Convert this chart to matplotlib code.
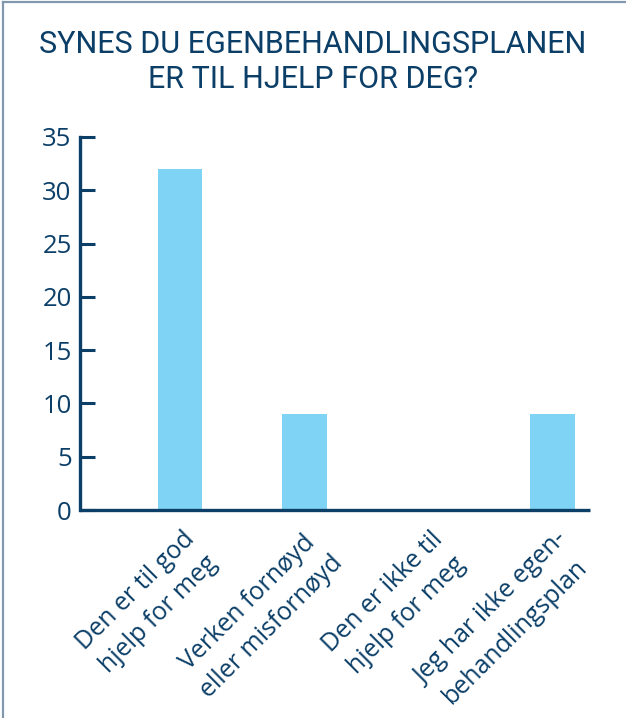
import matplotlib
matplotlib.use("Agg")
import matplotlib.pyplot as plt
import matplotlib.transforms as mtransforms
from matplotlib.lines import Line2D

# Svarfordeling
kategorier = [
    "Den er til god\nhjelp for meg",
    "Verken fornøyd\neller misfornøyd",
    "Den er ikke til\nhjelp for meg",
    "Jeg har ikke egen-\nbehandlingsplan",
]
antall = [32, 9, 0, 9]
y_ticks = [0, 5, 10, 15, 20, 25, 30, 35]

tittel = "SYNES DU EGENBEHANDLINGSPLANEN\nER TIL HJELP FOR DEG?"

navy = "#0c3f68"
bar_color = "#7fd3f5"
frame_color = "#8298ae"

plt.rcParams["font.family"] = ["Open Sans", "DejaVu Sans"]

fig = plt.figure(figsize=(6.26, 7.18), dpi=100)
ax = fig.add_axes([80 / 626, 1 - 510 / 718, 510 / 626, (510 - 137) / 718])

x = list(range(len(kategorier)))
ax.bar(x, antall, width=0.36, color=bar_color, zorder=1)

ax.set_ylim(0, 35)
ax.set_xlim(-0.806, 3.30)
ax.set_yticks(y_ticks)
ax.set_xticks(x)
ax.set_xticklabels(kategorier, rotation=45, ha="right", va="top",
                   rotation_mode="anchor", multialignment="center",
                   linespacing=1.45)

for side in ["top", "right"]:
    ax.spines[side].set_visible(False)
for side in ["left", "bottom"]:
    ax.spines[side].set_color(navy)
    ax.spines[side].set_linewidth(2.4)
    ax.spines[side].set_zorder(3)
ax.spines["bottom"].set_capstyle("butt")

ax.tick_params(axis="y", direction="in", length=11, width=2.2, color=navy,
               labelcolor=navy, labelsize=18.5, pad=6)
ax.tick_params(axis="x", length=0, labelcolor=navy, labelsize=18, pad=12)

# x-etikettene forskyves litt mot høyre
offset = mtransforms.ScaledTranslation(2 / 100, 0, fig.dpi_scale_trans)
for lbl in ax.get_xticklabels():
    lbl.set_transform(lbl.get_transform() + offset)

fig.text(313 / 626, 1 - 62 / 718, tittel, ha="center", va="center",
         color=navy, fontsize=22, family=["Roboto", "DejaVu Sans"],
         linespacing=1.25)

# Ramme øverst og til venstre
fig.add_artist(Line2D([3 / 626, 3 / 626], [0, 1 - 2 / 718], color=frame_color,
                      linewidth=1.6, transform=fig.transFigure))
fig.add_artist(Line2D([3 / 626, 1], [1 - 2 / 718, 1 - 2 / 718], color=frame_color,
                      linewidth=1.6, transform=fig.transFigure))

fig.savefig("out.png", dpi=100, facecolor="white")
